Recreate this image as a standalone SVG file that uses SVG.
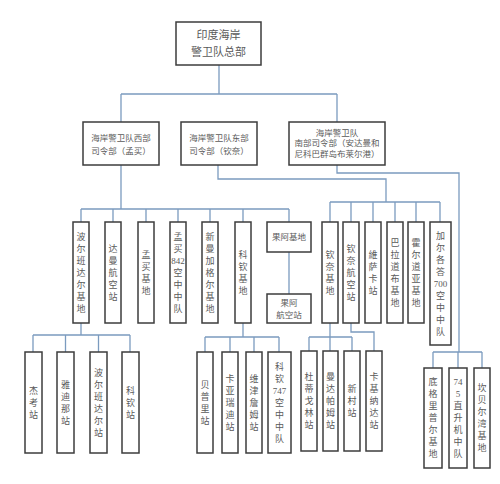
<svg xmlns="http://www.w3.org/2000/svg" width="500" height="484" viewBox="0 0 500 484">
<style>
.box{fill:#fff;stroke:#3c3c3c;stroke-width:1.5}
.ln{fill:none;stroke:#7b9bbf;stroke-width:1.3}
text{font-family:"Liberation Serif","Noto Sans CJK SC",serif;fill:#5a5a5a;text-anchor:middle}
.h{font-size:8.5px}
.t{font-size:11px}
.v{font-size:9px}
</style>
<rect width="500" height="484" fill="#fff"/>
<g id="connectors">
<path class="ln" d="M219 65V94M121 94H337M121 94V122M337 94V122"/>
<path class="ln" d="M121 165V209M81 209H289M81 209V222M113 209V222M146 209V222M178 209V222M210 209V222M243 209V222M289 209V222M289 252V294"/>
<path class="ln" d="M218 165V179H386V202M330 202H440M330 202V222M351 202V222M373 202V222M395 202V222M416 202V222M440 202V222"/>
<path class="ln" d="M337 165V173H459V352M433 352H482M433 352V368M458 352V368M482 352V368"/>
<path class="ln" d="M81 323V335M33 335H130M33 335V352M65.5 335V352M98.5 335V352M130 335V352"/>
<path class="ln" d="M243 323V337M205 337H279M205 337V352M230 337V352M254 337V352M279 337V352"/>
<path class="ln" d="M330 323V337M309 337H352M309 337V351M330 337V351M352 337V351M351 323V332H374V351"/>
</g>
<g id="hq"><rect class="box" x="176" y="22" width="85" height="43"/><text class="t" x="218.5" y="39">印度海岸</text><text class="t" x="218.5" y="56">警卫队总部</text></g>
<g id="west"><rect class="box" x="83" y="122" width="76" height="43"/><text class="h" x="121" y="141">海岸警卫队西部</text><text class="h" x="121" y="154">司令部（孟买）</text></g>
<g id="east"><rect class="box" x="181" y="122" width="76" height="43"/><text class="h" x="219" y="141">海岸警卫队东部</text><text class="h" x="219" y="154">司令部（钦奈）</text></g>
<g id="south"><rect class="box" x="289" y="122" width="96" height="43"/><text class="h" x="337" y="135.5">海岸警卫队</text><text class="h" x="337" y="146">南部司令部（安达曼和</text><text class="h" x="337" y="156.5">尼科巴群岛布莱尔港）</text></g>

<g id="porbandar-base"><rect class="box" x="73" y="222" width="16" height="101"/><text class="v" x="81" y="239.8"><tspan x="81">波</tspan><tspan x="81" dy="12">尔</tspan><tspan x="81" dy="12">班</tspan><tspan x="81" dy="12">达</tspan><tspan x="81" dy="12">尔</tspan><tspan x="81" dy="12">基</tspan><tspan x="81" dy="12">地</tspan></text></g>
<g id="daman"><rect class="box" x="105" y="222" width="16" height="101"/><text class="v" x="113" y="251.8"><tspan x="113">达</tspan><tspan x="113" dy="12">曼</tspan><tspan x="113" dy="12">航</tspan><tspan x="113" dy="12">空</tspan><tspan x="113" dy="12">站</tspan></text></g>
<g id="mumbai-base"><rect class="box" x="138" y="222" width="16" height="101"/><text class="v" x="146" y="257.8"><tspan x="146">孟</tspan><tspan x="146" dy="12">买</tspan><tspan x="146" dy="12">基</tspan><tspan x="146" dy="12">地</tspan></text></g>
<g id="mumbai-842"><rect class="box" x="170" y="222" width="16" height="101"/><text class="v" x="178" y="239.8"><tspan x="178">孟</tspan><tspan x="178" dy="12">买</tspan><tspan x="178" dy="12">842</tspan><tspan x="178" dy="12">空</tspan><tspan x="178" dy="12">中</tspan><tspan x="178" dy="12">中</tspan><tspan x="178" dy="12">队</tspan></text></g>
<g id="nm-base"><rect class="box" x="202" y="222" width="16" height="101"/><text class="v" x="210" y="239.8"><tspan x="210">新</tspan><tspan x="210" dy="12">曼</tspan><tspan x="210" dy="12">加</tspan><tspan x="210" dy="12">格</tspan><tspan x="210" dy="12">尔</tspan><tspan x="210" dy="12">基</tspan><tspan x="210" dy="12">地</tspan></text></g>
<g id="kochi-base"><rect class="box" x="235" y="222" width="16" height="101"/><text class="v" x="243" y="257.8"><tspan x="243">科</tspan><tspan x="243" dy="12">钦</tspan><tspan x="243" dy="12">基</tspan><tspan x="243" dy="12">地</tspan></text></g>
<g id="goa-base"><rect class="box" x="267" y="222" width="44" height="30"/><text class="h" x="289" y="240">果阿基地</text></g>
<g id="goa-air"><rect class="box" x="267" y="294" width="44" height="29"/><text class="h" x="289" y="305.5">果阿</text><text class="h" x="289" y="317.5">航空站</text></g>

<g id="chennai-base"><rect class="box" x="322" y="222" width="16" height="101"/><text class="v" x="330" y="257.8"><tspan x="330">钦</tspan><tspan x="330" dy="12">奈</tspan><tspan x="330" dy="12">基</tspan><tspan x="330" dy="12">地</tspan></text></g>
<g id="chennai-air"><rect class="box" x="343" y="222" width="16" height="101"/><text class="v" x="351" y="251.8"><tspan x="351">钦</tspan><tspan x="351" dy="12">奈</tspan><tspan x="351" dy="12">航</tspan><tspan x="351" dy="12">空</tspan><tspan x="351" dy="12">站</tspan></text></g>
<g id="vizag"><rect class="box" x="365" y="222" width="16" height="101"/><text class="v" x="373" y="257.8"><tspan x="373">維</tspan><tspan x="373" dy="12">萨</tspan><tspan x="373" dy="12">卡</tspan><tspan x="373" dy="12">站</tspan></text></g>
<g id="paradip"><rect class="box" x="387" y="222" width="16" height="101"/><text class="v" x="395" y="245.8"><tspan x="395">巴</tspan><tspan x="395" dy="12">拉</tspan><tspan x="395" dy="12">道</tspan><tspan x="395" dy="12">布</tspan><tspan x="395" dy="12">基</tspan><tspan x="395" dy="12">地</tspan></text></g>
<g id="haldia"><rect class="box" x="408" y="222" width="16" height="101"/><text class="v" x="416" y="245.8"><tspan x="416">霍</tspan><tspan x="416" dy="12">尔</tspan><tspan x="416" dy="12">道</tspan><tspan x="416" dy="12">亚</tspan><tspan x="416" dy="12">基</tspan><tspan x="416" dy="12">地</tspan></text></g>
<g id="kolkata-700"><rect class="box" x="430" y="222" width="21" height="123"/><text class="v" x="440.5" y="238.8"><tspan x="440.5">加</tspan><tspan x="440.5" dy="12">尔</tspan><tspan x="440.5" dy="12">各</tspan><tspan x="440.5" dy="12">答</tspan><tspan x="440.5" dy="12">700</tspan><tspan x="440.5" dy="12">空</tspan><tspan x="440.5" dy="12">中</tspan><tspan x="440.5" dy="12">中</tspan><tspan x="440.5" dy="12">队</tspan></text></g>

<g id="jakhau"><rect class="box" x="25" y="352" width="17" height="101"/><text class="v" x="33.5" y="393.8"><tspan x="33.5">杰</tspan><tspan x="33.5" dy="12">考</tspan><tspan x="33.5" dy="12">站</tspan></text></g>
<g id="vadinar"><rect class="box" x="57" y="352" width="17" height="101"/><text class="v" x="65.5" y="387.8"><tspan x="65.5">雅</tspan><tspan x="65.5" dy="12">迪</tspan><tspan x="65.5" dy="12">那</tspan><tspan x="65.5" dy="12">站</tspan></text></g>
<g id="porbandar-st"><rect class="box" x="90" y="352" width="17" height="101"/><text class="v" x="98.5" y="375.8"><tspan x="98.5">波</tspan><tspan x="98.5" dy="12">尔</tspan><tspan x="98.5" dy="12">班</tspan><tspan x="98.5" dy="12">达</tspan><tspan x="98.5" dy="12">尔</tspan><tspan x="98.5" dy="12">站</tspan></text></g>
<g id="kochi-st"><rect class="box" x="122" y="352" width="17" height="101"/><text class="v" x="130.5" y="393.8"><tspan x="130.5">科</tspan><tspan x="130.5" dy="12">钦</tspan><tspan x="130.5" dy="12">站</tspan></text></g>

<g id="beypore"><rect class="box" x="197" y="352" width="16" height="101"/><text class="v" x="205" y="387.8"><tspan x="205">贝</tspan><tspan x="205" dy="12">普</tspan><tspan x="205" dy="12">里</tspan><tspan x="205" dy="12">站</tspan></text></g>
<g id="kavaratti"><rect class="box" x="222" y="352" width="16" height="101"/><text class="v" x="230" y="381.8"><tspan x="230">卡</tspan><tspan x="230" dy="12">亚</tspan><tspan x="230" dy="12">瑞</tspan><tspan x="230" dy="12">迪</tspan><tspan x="230" dy="12">站</tspan></text></g>
<g id="vizhinjam"><rect class="box" x="246" y="352" width="16" height="101"/><text class="v" x="254" y="381.8"><tspan x="254">维</tspan><tspan x="254" dy="12">津</tspan><tspan x="254" dy="12">詹</tspan><tspan x="254" dy="12">姆</tspan><tspan x="254" dy="12">站</tspan></text></g>
<g id="kochi-747"><rect class="box" x="268" y="352" width="23" height="101"/><text class="v" x="279.5" y="369.8"><tspan x="279.5">科</tspan><tspan x="279.5" dy="12">钦</tspan><tspan x="279.5" dy="12">747</tspan><tspan x="279.5" dy="12">空</tspan><tspan x="279.5" dy="12">中</tspan><tspan x="279.5" dy="12">中</tspan><tspan x="279.5" dy="12">队</tspan></text></g>

<g id="tuticorin"><rect class="box" x="301" y="351" width="16" height="100"/><text class="v" x="309" y="380.3"><tspan x="309">杜</tspan><tspan x="309" dy="12">蒂</tspan><tspan x="309" dy="12">戈</tspan><tspan x="309" dy="12">林</tspan><tspan x="309" dy="12">站</tspan></text></g>
<g id="mandapam"><rect class="box" x="323" y="351" width="15" height="100"/><text class="v" x="330.5" y="380.3"><tspan x="330.5">曼</tspan><tspan x="330.5" dy="12">达</tspan><tspan x="330.5" dy="12">帕</tspan><tspan x="330.5" dy="12">姆</tspan><tspan x="330.5" dy="12">站</tspan></text></g>
<g id="xincun"><rect class="box" x="344" y="351" width="16" height="100"/><text class="v" x="352" y="392.3"><tspan x="352">新</tspan><tspan x="352" dy="12">村</tspan><tspan x="352" dy="12">站</tspan></text></g>
<g id="kakinada"><rect class="box" x="366" y="351" width="16" height="100"/><text class="v" x="374" y="380.3"><tspan x="374">卡</tspan><tspan x="374" dy="12">基</tspan><tspan x="374" dy="12">纳</tspan><tspan x="374" dy="12">达</tspan><tspan x="374" dy="12">站</tspan></text></g>

<g id="diglipur"><rect class="box" x="424" y="368" width="18" height="100"/><text class="v" x="433" y="385.3"><tspan x="433">底</tspan><tspan x="433" dy="12">格</tspan><tspan x="433" dy="12">里</tspan><tspan x="433" dy="12">普</tspan><tspan x="433" dy="12">尔</tspan><tspan x="433" dy="12">基</tspan><tspan x="433" dy="12">地</tspan></text></g>
<g id="heli-745"><rect class="box" x="449" y="368" width="18" height="100"/><text class="v" x="458" y="385.3"><tspan x="458">74</tspan><tspan x="458" dy="12">5</tspan><tspan x="458" dy="12">直</tspan><tspan x="458" dy="12">升</tspan><tspan x="458" dy="12">机</tspan><tspan x="458" dy="12">中</tspan><tspan x="458" dy="12">队</tspan></text></g>
<g id="campbell"><rect class="box" x="474" y="368" width="16" height="100"/><text class="v" x="482" y="391.3"><tspan x="482">坎</tspan><tspan x="482" dy="12">贝</tspan><tspan x="482" dy="12">尔</tspan><tspan x="482" dy="12">湾</tspan><tspan x="482" dy="12">基</tspan><tspan x="482" dy="12">地</tspan></text></g>
</svg>
